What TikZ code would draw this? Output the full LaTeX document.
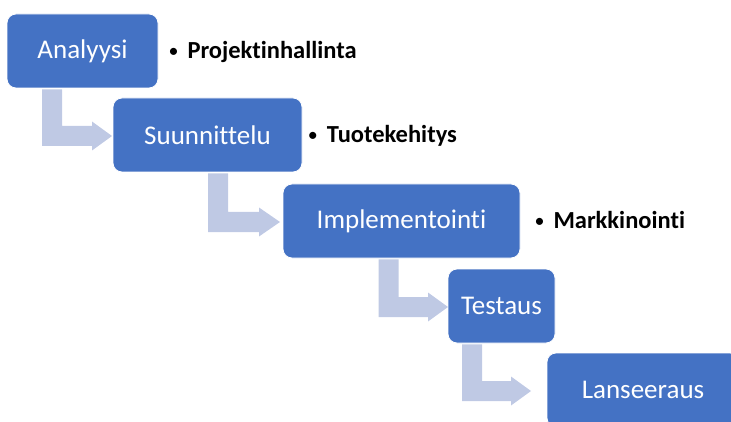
\documentclass[tikz,border=0pt]{standalone}
\usepackage{fontspec}
\setmainfont{Carlito}[Ligatures={NoCommon}]
\usetikzlibrary{calc}
\definecolor{boxblue}{RGB}{68,114,196}
\definecolor{arrowfill}{RGB}{191,201,228}
\tikzset{
  stagebox/.style={draw=white, line width=0.8pt, fill=boxblue, rounded corners=9pt,
    text=white, font=\fontsize{27}{30}\selectfont, inner sep=0pt, anchor=center},
  bulletlabel/.style={anchor=base west, inner sep=0pt, font=\fontsize{24.5}{28}\selectfont\bfseries, text=black},
  bendfill/.style={fill=arrowfill, draw=none}
}
\newcommand\smallbullet{\llap{\makebox[28pt]{\raisebox{0.8pt}{\fontsize{20}{22}\selectfont\mdseries •}}}}
% #1 from node, #2 to node, #3 left x of the bar, #4 head base x, #5 tip x
\newcommand\bendarrow[5]{%
  \path[bendfill] let \p1=(#1.south), \p2=(#2.west) in
    (#3pt,\y1-1pt) -- (#3pt+20pt,\y1-1pt) -- (#3pt+20pt,\y2-1pt+10pt)
    -- (#4pt,\y2-1pt+10pt) -- (#4pt,\y2-1pt+14.5pt) -- (#5pt,\y2-1pt)
    -- (#4pt,\y2-1pt-14.5pt) -- (#4pt,\y2-1pt-10pt) -- (#3pt,\y2-1pt-10pt) -- cycle;}
\begin{document}
\begin{tikzpicture}[x=1pt,y=1pt]
\useasboundingbox (0,0) rectangle (731,421);
\clip (0,0) rectangle (731,421);
\node[stagebox, minimum width=151pt, minimum height=74pt] (a) at (82.5,370) {Analyysi};
\node[stagebox, minimum width=189pt, minimum height=74pt] (b) at (207.5,286) {Suunnittelu};
\node[stagebox, minimum width=237pt, minimum height=74pt] (c) at (401.5,200) {Implementointi};
\node[stagebox, minimum width=107pt, minimum height=74pt] (d) at (501.5,115) {Testaus};
\node[stagebox, minimum width=192pt, minimum height=74pt] (e) at (643,31) {Lanseeraus};
\bendarrow{a}{b}{42}{92}{112}
\bendarrow{b}{c}{208}{259}{280}
\bendarrow{c}{d}{378.5}{428}{448}
\bendarrow{d}{e}{462}{511}{531}
\node[bulletlabel] (la) at (187.3,362.5) {\smallbullet Projektinhallinta};
\node[bulletlabel] (lb) at (326.7,278.5) {\smallbullet Tuotekehitys};
\node[bulletlabel] (lc) at (553.3,192.5) {\smallbullet Markkinointi};
\end{tikzpicture}
\end{document}
